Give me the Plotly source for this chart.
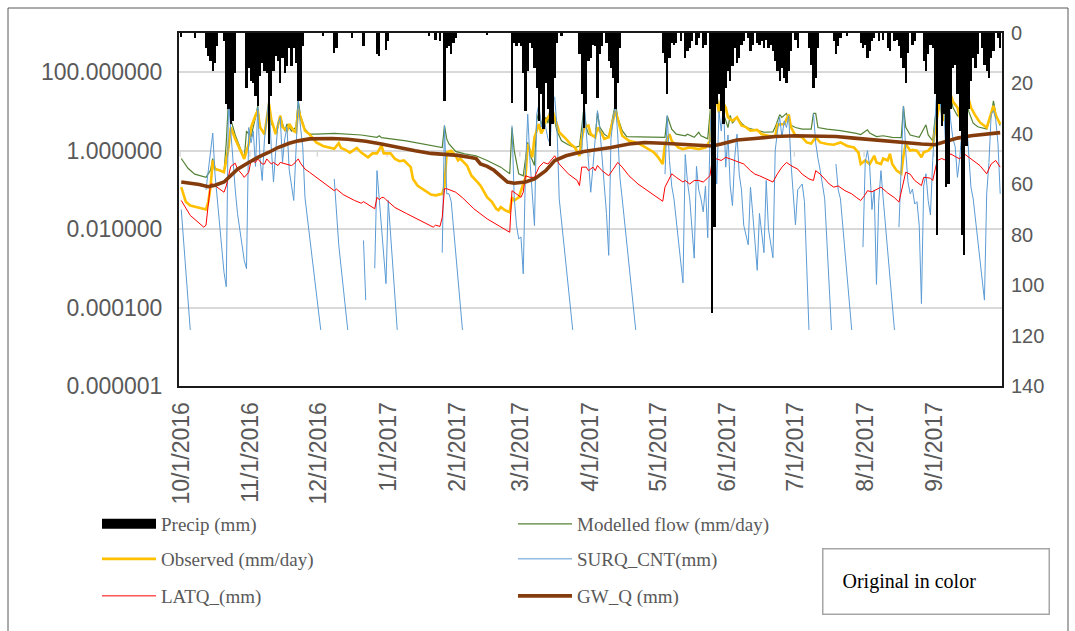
import pandas as pd
import plotly.graph_objects as go

START = pd.Timestamp("2016-10-01")

# ---------------- data (day offset from 10/1/2016) ----------------
precip_day = [0, 6, 11, 12, 13, 14, 15, 16, 19, 20,
              21, 22, 23, 24, 29, 30, 31, 32, 33, 34,
              35, 36, 37, 38, 39, 40, 41, 42, 43, 44,
              45, 46, 47, 48, 49, 50, 51, 52, 53, 54,
              63, 68, 69, 76, 81, 87, 88, 91, 92, 110,
              113, 115, 117, 118, 119, 120, 121, 122, 136, 147,
              148, 149, 150, 151, 152, 153, 154, 155, 156, 157,
              158, 159, 160, 161, 162, 163, 164, 165, 166, 167,
              169, 177, 178, 179, 180, 181, 182, 183, 184, 185,
              186, 187, 189, 190, 191, 192, 193, 194, 195, 214,
              215, 216, 217, 218, 219, 220, 222, 224, 225, 226,
              227, 229, 230, 232, 233, 235, 236, 237, 238, 239,
              240, 241, 242, 243, 244, 245, 246, 247, 248, 249,
              250, 252, 253, 254, 256, 257, 258, 259, 260, 261,
              262, 263, 264, 265, 266, 267, 268, 269, 270, 271,
              273, 274, 279, 280, 281, 282, 283, 290, 291, 292,
              293, 296, 302, 303, 304, 305, 306, 307, 308, 310,
              312, 314, 315, 317, 318, 319, 320, 321, 322, 323,
              325, 326, 330, 331, 332, 333, 334, 335, 336, 337,
              338, 339, 340, 341, 342, 343, 344, 345, 346, 347,
              348, 349, 350, 351, 352, 353, 354, 356, 357, 358,
              359, 360, 361, 363, 364]
precip_mm = [1.5, 2, 6, 9, 11, 15, 12, 5, 3, 28,
             30, 36, 35, 16, 22, 14, 19, 20, 25, 29,
             17, 12, 15, 16, 44, 25, 15, 9, 11, 20,
             10, 16, 13, 6, 13, 6, 12, 27, 27, 5,
             1.3, 8, 6, 2, 5, 8.5, 9, 6.6, 3, 1.3,
             2.6, 3.3, 27, 6, 5, 8.5, 4, 2, 0.7, 27.6,
             4, 5, 4, 5, 16, 31, 15, 4, 6, 14,
             22, 35, 24, 38, 20, 30, 45, 36, 18, 4,
             1.3, 8.5, 24, 37.5, 28, 11, 10, 4.6, 5, 25.6,
             8.5, 5, 4, 11, 14, 18, 30, 20, 6, 8,
             12, 24, 10, 4, 4.6, 4, 3, 10, 7, 6,
             3, 4.6, 2, 6, 4.6, 30, 111, 77, 28, 24,
             31, 36, 22, 15, 19, 13, 6, 12, 10, 4.6,
             3.3, 2, 7, 4.6, 4, 4.6, 3.3, 6, 2.6, 6,
             4.6, 7, 11, 15, 19, 14, 18, 20, 15, 7,
             2.6, 6, 6, 12.5, 22, 17.7, 6, 3.3, 8.5, 5,
             2, 1.3, 4, 6, 4.6, 10, 7, 3.3, 2, 3.3,
             2.6, 5.9, 7.2, 3.3, 2.6, 5, 10, 14, 20, 8,
             4.6, 3.3, 11, 15, 8.5, 4.6, 6, 24, 80, 28,
             37, 32, 61, 60, 30, 14, 12.5, 24, 39, 80,
             88, 45, 30, 19, 10, 14, 8.5, 6, 12.5, 15,
             18, 10, 7, 2, 6]

# (day, log10 of mm/day)
modelled_pts = [(0, -0.2), (3, -0.45), (6, -0.6), (11, -0.68), (13, -0.5), (14, -0.2), (15, -0.45), (19, -0.55),
                (20, 0.2), (21, 1.31), (22, 0.8), (24, 0.4), (26, 0.1), (28, -0.2), (29, 0.5), (31, 0.35),
                (33, 0.85), (34, 1.14), (35, 0.6), (37, 0.42), (38, 0.8), (39, 1.23), (40, 0.7), (42, 0.5),
                (43, 0.6), (44, 0.89), (46, 0.5), (47, 0.68), (49, 0.5), (51, 0.6), (52, 1.27), (53, 0.9),
                (55, 0.55), (57, 0.42), (60, 0.42), (68, 0.44), (80, 0.4), (87, 0.34), (88, 0.38), (89, 0.33),
                (100, 0.25), (104, 0.21), (110, 0.14), (116, 0.08), (117, 0.64), (118, 0.3), (119, 0.17),
                (122, -0.02), (126, -0.08), (131, -0.13), (136, -0.25), (142, -0.42), (146, -0.59), (147, 0.59),
                (148, 0.0), (150, -0.59), (152, -0.64), (153, -0.2), (154, 0.21), (155, -0.1), (157, -0.38),
                (158, 0.76), (159, 1.02), (160, 0.7), (161, 0.68), (162, 0.85), (163, 0.7), (164, 1.14),
                (165, 1.0), (166, 0.76), (167, 0.5), (169, 0.25), (172, 0.15), (175, 0.08), (177, 0.12),
                (178, 0.6), (179, 1.10), (180, 0.6), (181, 0.42), (184, 0.34), (185, 0.97), (186, 0.6),
                (188, 0.42), (190, 0.34), (192, 0.9), (193, 1.2), (194, 0.85), (196, 0.51), (198, 0.36),
                (213, 0.34), (215, 0.34), (216, 0.89), (217, 0.7), (218, 0.55), (220, 0.42), (224, 0.38),
                (225, 0.42), (228, 0.34), (230, 0.47), (231, 0.38), (234, 0.30), (235, 1.0), (236, 1.6),
                (237, 1.86), (238, 1.5), (239, 1.0), (240, 1.19), (241, 0.95), (243, 0.59), (244, 0.9),
                (245, 0.7), (247, 0.85), (249, 0.7), (251, 0.59), (255, 0.52), (259, 0.47), (263, 0.48),
                (264, 0.6), (266, 0.92), (267, 0.85), (269, 0.95), (270, 0.8), (271, 0.65), (273, 0.59),
                (276, 0.55), (280, 0.55), (281, 0.95), (282, 0.95), (283, 0.59), (287, 0.55), (293, 0.51),
                (300, 0.44), (302, 0.41), (305, 0.53), (306, 0.45), (309, 0.36), (312, 0.38), (316, 0.34),
                (320, 0.33), (321, 1.14), (322, 0.6), (324, 0.4), (328, 0.34), (331, 0.66), (332, 0.4),
                (334, 0.25), (335, 0.8), (336, 1.10), (337, 1.69), (338, 1.3), (339, 1.0), (340, 1.3),
                (341, 1.61), (342, 1.4), (343, 1.1), (345, 0.89), (346, 0.95), (347, 1.2), (348, 1.69),
                (349, 1.3), (350, 1.0), (352, 0.7), (354, 0.61), (358, 0.55), (360, 0.9), (361, 1.27),
                (362, 0.95), (364, 0.64)]

observed_pts = [(0, -0.93), (1, -1.1), (2, -1.3), (4, -1.4), (7, -1.44), (9, -1.48), (11, -1.5), (12, -1.31),
                (13, -0.93), (14, -0.25), (15, -0.47), (17, -0.5), (19, -0.55), (21, 0.08), (22, 0.59),
                (24, 0.3), (25, 0.17), (27, -0.05), (28, -0.21), (30, 0.17), (31, 0.59), (33, 0.9), (34, 1.02),
                (35, 0.6), (37, 0.42), (39, 1.2), (40, 0.8), (42, 0.42), (44, 0.89), (45, 0.6), (47, 0.5),
                (48, 0.68), (50, 0.5), (51, 0.47), (52, 1.06), (53, 0.85), (55, 0.51), (57, 0.42), (58, 0.34),
                (60, 0.21), (63, 0.12), (66, 0.07), (68, 0.05), (70, 0.19), (71, 0.07), (73, 0.02), (75, -0.05),
                (78, 0.07), (80, -0.05), (83, -0.17), (85, -0.07), (87, -0.07), (89, 0.13), (90, -0.07),
                (93, -0.07), (95, -0.21), (97, -0.27), (99, -0.25), (102, -0.42), (103, -0.72), (105, -0.89),
                (107, -0.97), (109, -1.05), (111, -1.12), (113, -1.14), (116, -1.1), (117, -0.9), (118, -0.04),
                (120, 0.0), (122, -0.13), (123, -0.25), (124, -0.2), (127, -0.38), (129, -0.64), (131, -0.76),
                (133, -0.89), (136, -1.19), (138, -1.3), (140, -1.48), (141, -1.52), (142, -1.44), (144, -1.52),
                (146, -1.57), (147, -1.19), (148, -1.27), (150, -1.19), (151, -1.02), (153, -0.68), (154, 0.17),
                (156, -0.17), (157, 0.34), (159, 0.68), (160, 0.44), (161, 0.55), (162, 0.76), (164, 0.93),
                (165, 1.02), (166, 0.85), (168, 0.47), (171, 0.30), (173, 0.17), (175, 0.08), (177, -0.13),
                (178, 0.3), (179, 0.59), (181, 0.64), (182, 0.42), (184, 0.34), (185, 0.59), (187, 0.42),
                (188, 0.30), (190, 0.34), (192, 0.85), (193, 1.02), (195, 0.59), (196, 0.38), (199, 0.25),
                (202, 0.21), (205, 0.13), (208, 0.04), (210, -0.04), (212, -0.17), (214, -0.34), (215, 0.17),
                (217, 0.42), (218, 0.25), (221, 0.08), (223, 0.04), (226, 0.08), (230, 0.04), (233, 0.08),
                (235, 0.25), (236, 1.44), (237, 1.61), (239, 0.97), (240, 1.31), (242, 1.1), (243, 0.85),
                (245, 0.76), (247, 0.85), (249, 0.64), (251, 0.6), (253, 0.51), (256, 0.53), (258, 0.42),
                (261, 0.38), (264, 0.36), (265, 0.66), (268, 0.68), (270, 0.92), (271, 0.6), (273, 0.38),
                (276, 0.34), (278, 0.21), (280, 0.18), (282, 0.34), (284, 0.21), (287, 0.17), (290, 0.15),
                (293, 0.21), (296, 0.12), (299, 0.08), (301, -0.05), (302, -0.34), (304, -0.25), (306, -0.34),
                (308, -0.13), (309, -0.3), (311, -0.34), (312, -0.2), (314, -0.25), (315, -0.08), (316, -0.34),
                (318, -0.51), (320, -0.59), (321, -0.13), (322, 0.17), (324, 0.0), (325, 0.02), (327, 0.0),
                (329, -0.17), (330, -0.04), (332, 0.0), (334, 0.13), (335, 0.5), (336, 0.9), (337, 1.23),
                (339, 0.76), (340, 1.19), (341, 1.6), (343, 1.25), (345, 1.1), (346, 0.85), (347, 1.2),
                (348, 1.74), (350, 1.35), (351, 1.1), (353, 0.89), (355, 0.72), (358, 0.59), (360, 0.97),
                (361, 1.14), (362, 0.9), (364, 0.68)]

# None = zero value (gap on the log axis)
surq_pts = [(0, -1.5), (4, -4.57), (5, None),
            (11, -1.0), (12, -0.5), (13, 0.0), (14, 0.45), (15, -0.6), (16, -1.23), (17, -2.0), (19, -3.1),
            (20, -3.47), (21, 1.31), (22, 0.5), (23, -0.3), (24, -1.0), (25, -1.6), (28, -2.8), (29, -3.01),
            (30, 0.59), (31, 0.2), (32, 0.5), (33, -0.4), (34, 1.1), (35, -0.2), (36, -0.76), (37, 0.3),
            (38, 0.9), (39, 1.36), (40, 0.1), (41, -0.8), (42, 0.0), (43, 0.7), (44, 0.85), (45, -0.3),
            (46, 0.3), (47, 0.59), (48, -0.5), (49, -0.9), (50, -1.27), (51, 0.0), (52, 1.31), (53, 0.6),
            (54, 0.1), (55, -1.2), (62, -4.57), (63, None),
            (68, -0.72), (70, -2.4), (74, -4.57), (75, None),
            (81, -2.29), (82, -3.81), (83, None),
            (86, -3.0), (87, -0.51), (88, -1.23), (91, -3.39), (92, -1.27), (96, -4.57), (97, None),
            (116, -2.6), (117, 0.64), (118, -1.1), (119, -1.1), (120, -1.3), (125, -4.57), (126, None),
            (147, 0.64), (148, -1.2), (149, -1.9), (150, -2.25), (151, -2.2), (152, -3.14), (153, -0.5),
            (154, 0.93), (155, -0.25), (156, -1.2), (157, -1.91), (158, 0.93), (159, 1.19), (160, 0.6),
            (161, 0.85), (162, 0.59), (163, 0.3), (164, 0.17), (165, 1.40), (166, 1.36), (167, 0.6),
            (168, -1.23), (174, -4.57), (175, None),
            (178, -0.1), (179, 1.31), (180, 0.5), (181, -0.2), (182, -1.06), (183, -0.4), (184, 0.3),
            (185, 1.02), (186, 0.59), (187, -0.1), (188, -0.68), (189, -1.6), (190, -2.67), (191, 0.3),
            (192, 0.8), (193, 1.23), (194, 0.4), (195, -0.7), (196, -1.23), (202, -4.57), (203, None),
            (215, -0.6), (216, 0.89), (217, -0.25), (218, -0.9), (219, -1.23), (223, -3.37), (224, -0.1),
            (225, -0.8), (226, -1.23), (228, -2.74), (229, -0.4), (230, -1.0), (231, -1.23), (232, -1.56),
            (233, -0.9), (234, -2.22), (235, 0.3), (236, 1.89), (237, 0.67), (238, -0.85), (239, 1.0),
            (240, 0.5), (241, 1.19), (242, -0.42), (243, 0.4), (244, -0.9), (245, -1.4), (246, -0.17),
            (247, 0.42), (248, -0.6), (249, -1.0), (250, -1.9), (252, -2.40), (253, -0.93), (254, -1.6),
            (256, -3.05), (257, -1.6), (259, -2.60), (260, -0.76), (261, -2.0), (263, -2.73), (264, 0.0),
            (265, 0.5), (266, 0.85), (267, 0.34), (268, 0.76), (269, 0.59), (270, 0.89), (271, -0.3),
            (272, -1.2), (273, -1.89), (274, -1.0), (276, -0.85), (277, -1.3), (279, -4.57), (280, None),
            (281, 0.95), (282, 0.2), (283, -0.2), (284, -0.5), (286, -1.23), (289, -4.57), (290, None),
            (291, -0.34), (292, -1.0), (293, -1.23), (298, -4.57), (299, None),
            (303, -2.46), (304, -0.3), (305, 0.0), (306, -0.4), (307, -1.5), (308, -1.0), (309, -3.41),
            (310, -1.3), (311, -0.51), (312, -1.23), (317, -4.57), (318, None),
            (319, -1.95), (320, -0.5), (321, 1.14), (322, 0.0), (323, -0.8), (324, -1.1), (325, -0.98),
            (326, -1.36), (327, -1.3), (328, -1.9), (329, -3.90), (330, -0.9), (331, -0.59), (332, -1.27),
            (333, -1.64), (334, -0.25), (335, 0.8), (336, 1.74), (337, 1.53), (338, 0.76), (339, 1.1),
            (340, -0.25), (341, 1.57), (342, 0.76), (343, 0.3), (344, 0.1), (345, -0.68), (346, -0.2),
            (347, 0.5), (348, 1.78), (349, 0.8), (350, -0.2), (351, -0.93), (352, -1.23), (357, -3.81),
            (358, -1.1), (359, -0.3), (360, 0.93), (361, 1.02), (362, 0.8), (363, 0.2), (364, -1.1)]

latq_pts = [(0, -1.27), (2, -1.45), (4, -1.65), (7, -1.8), (10, -1.95), (11, -1.9), (12, -1.27), (13, -0.85),
            (14, -0.85), (16, -0.93), (19, -1.06), (20, -0.9), (21, -0.68), (22, -0.4), (24, -0.32),
            (25, -0.47), (27, -0.6), (28, -0.68), (30, -0.55), (31, -0.25), (33, -0.3), (34, -0.21),
            (36, -0.34), (37, -0.34), (38, -0.21), (40, -0.34), (41, -0.3), (43, -0.38), (44, -0.3),
            (46, -0.34), (47, -0.34), (49, -0.38), (50, -0.34), (52, -0.21), (53, -0.32), (55, -0.47),
            (57, -0.55), (60, -0.68), (64, -0.85), (68, -1.02), (69, -0.98), (72, -1.12), (77, -1.27),
            (80, -1.34), (81, -1.3), (83, -1.38), (86, -1.48), (87, -1.19), (88, -1.25), (89, -1.2),
            (90, -1.19), (91, -1.25), (95, -1.45), (100, -1.6), (104, -1.72), (108, -1.85), (112, -1.95),
            (113, -1.9), (115, -1.93), (116, -1.7), (117, -0.97), (118, -0.97), (120, -1.02), (122, -1.06),
            (125, -1.2), (130, -1.48), (136, -1.74), (142, -1.95), (146, -2.08), (147, -1.02), (149, -1.1),
            (151, -1.19), (152, -1.06), (153, -0.64), (155, -0.68), (157, -0.68), (159, -0.42), (161, -0.30),
            (163, -0.34), (166, -0.13), (168, -0.34), (172, -0.59), (176, -0.76), (177, -0.89), (178, -0.42),
            (180, -0.42), (181, -0.51), (183, -0.42), (184, -0.51), (185, -0.38), (187, -0.51), (190, -0.64),
            (192, -0.47), (194, -0.30), (196, -0.42), (199, -0.64), (203, -0.85), (208, -1.06), (211, -1.17),
            (214, -1.29), (215, -0.93), (218, -0.59), (220, -0.68), (223, -0.80), (224, -0.76), (226, -0.85),
            (228, -0.76), (230, -0.76), (232, -0.80), (234, -0.68), (235, -0.64), (236, -0.25), (238, -0.21),
            (240, -0.25), (242, -0.17), (244, -0.21), (246, -0.25), (248, -0.28), (250, -0.34), (253, -0.51),
            (255, -0.6), (257, -0.64), (260, -0.72), (263, -0.80), (265, -0.59), (267, -0.42), (269, -0.30),
            (271, -0.38), (274, -0.47), (276, -0.6), (279, -0.72), (281, -0.76), (282, -0.51), (284, -0.6),
            (286, -0.72), (288, -0.85), (290, -0.93), (292, -0.9), (295, -1.02), (298, -1.1), (300, -1.19),
            (302, -1.27), (304, -1.12), (305, -1.02), (307, -1.05), (309, -1.0), (311, -0.93), (314, -1.08),
            (317, -1.2), (319, -1.31), (321, -0.85), (322, -0.55), (324, -0.6), (326, -0.76), (329, -0.89),
            (330, -0.68), (333, -0.7), (334, -0.76), (336, -0.25), (338, -0.2), (340, -0.25), (342, -0.08),
            (344, -0.15), (346, -0.21), (348, -0.08), (350, -0.17), (353, -0.3), (355, -0.38), (358, -0.59),
            (360, -0.34), (362, -0.25), (364, -0.42)]

gwq_pts = [(0, -0.8), (4, -0.83), (8, -0.86), (12, -0.92), (15, -0.88), (19, -0.80), (22, -0.64), (25, -0.47),
           (30, -0.30), (34, -0.17), (39, -0.04), (43, 0.08), (48, 0.19), (52, 0.25), (57, 0.30), (62, 0.31),
           (67, 0.31), (74, 0.29), (82, 0.24), (89, 0.17), (96, 0.08), (104, 0.0), (111, -0.07), (119, -0.10),
           (123, -0.12), (128, -0.17), (131, -0.2), (133, -0.34), (136, -0.40), (139, -0.5), (142, -0.66),
           (145, -0.80), (148, -0.83), (153, -0.80), (157, -0.72), (162, -0.51), (166, -0.25), (171, -0.13),
           (175, -0.07), (179, -0.02), (185, 0.03), (191, 0.08), (199, 0.17), (206, 0.21), (214, 0.19),
           (221, 0.17), (228, 0.14), (236, 0.12), (240, 0.17), (247, 0.27), (255, 0.31), (264, 0.36),
           (273, 0.38), (282, 0.38), (291, 0.36), (299, 0.32), (309, 0.27), (314, 0.24), (322, 0.19),
           (329, 0.17), (335, 0.15), (340, 0.24), (345, 0.32), (351, 0.38), (357, 0.42), (364, 0.46)]

month_ticks = ["2016-10-01", "2016-11-01", "2016-12-01", "2017-01-01", "2017-02-01", "2017-03-01",
               "2017-04-01", "2017-05-01", "2017-06-01", "2017-07-01", "2017-08-01", "2017-09-01"]
month_labels = ["10/1/2016", "11/1/2016", "12/1/2016", "1/1/2017", "2/1/2017", "3/1/2017",
                "4/1/2017", "5/1/2017", "6/1/2017", "7/1/2017", "8/1/2017", "9/1/2017"]
left_tickvals = [1e-6, 1e-4, 1e-2, 1, 100]
left_ticktext = ["0.000001", "0.000100", "0.010000", "1.000000", "100.000000"]
right_tickvals = [0, 20, 40, 60, 80, 100, 120, 140]

assert len(precip_day) == len(precip_mm)


def dates(days):
    return [START + pd.Timedelta(days=d) for d in days]


def split(pts):
    d = [p[0] for p in pts]
    v = [None if p[1] is None else 10 ** p[1] for p in pts]
    return dates(d), v


TICK_FONT = dict(family="Liberation Sans, Arial", size=23, color="#595959")
RTICK_FONT = dict(family="Liberation Sans, Arial", size=20, color="#595959")
LEG_FONT = dict(family="Liberation Serif, Times New Roman", size=19, color="#595959")

fig = go.Figure()

# legend entry for the precipitation columns (wide black key, as in the original)
fig.add_trace(go.Scatter(x=[None], y=[None], mode="lines", name="Precip (mm)",
                         line=dict(color="#000000", width=10), legend="legend",
                         legendgroup="precip"))
fig.add_trace(go.Bar(x=dates(precip_day), y=precip_mm, yaxis="y2", name="Precip (mm)",
                     marker=dict(color="#000000", line=dict(width=0)),
                     width=0.95 * 86400000, showlegend=False, legendgroup="precip"))

series = [
    ("Modelled flow (mm/day)", modelled_pts, "#548235", 1.2, "legend"),
    ("Observed (mm/day)", observed_pts, "#FFC000", 2.6, "legend2"),
    ("SURQ_CNT(mm)", surq_pts, "#5B9BD5", 1.0, "legend2"),
    ("LATQ_(mm)", latq_pts, "#FF0000", 1.0, "legend3"),
    ("GW_Q (mm)", gwq_pts, "#843C0C", 3.6, "legend3"),
]
for name, pts, color, w, leg in series:
    x, y = split(pts)
    fig.add_trace(go.Scatter(x=x, y=y, mode="lines", name=name, connectgaps=False,
                             line=dict(color=color, width=w), legend=leg))

# geometry (pixels)
W, H = 1075, 631
PL, PR, PT, PB = 179, 1002, 33, 386


def px_x(px):
    return (px - PL) / (PR - PL)


def px_y(py):
    return (PB - py) / (PB - PT)


leg_common = dict(orientation="h", xanchor="left", yanchor="middle", font=LEG_FONT,
                  bgcolor="rgba(0,0,0,0)", entrywidth=347, entrywidthmode="pixels",
                  itemwidth=54, traceorder="normal")

fig.update_layout(
    width=W, height=H,
    margin=dict(l=PL, r=W - PR, t=PT, b=H - PB, pad=0),
    paper_bgcolor="white", plot_bgcolor="white",
    bargap=0,
    showlegend=True,
    legend=dict(x=px_x(97), y=px_y(524), **leg_common),
    legend2=dict(x=px_x(97), y=px_y(559), **leg_common),
    legend3=dict(x=px_x(97), y=px_y(596), **leg_common),
    xaxis=dict(type="date",
               range=[START - pd.Timedelta(days=1.0), START + pd.Timedelta(days=364.8)],
               tickmode="array", tickvals=month_ticks, ticktext=month_labels,
               tickangle=-90, tickfont=dict(family="Liberation Sans, Arial", size=23, color="#595959"),
               showgrid=False, zeroline=False, ticks="",
               showline=True, linecolor="#1a1a1a", linewidth=2, mirror=True,
               ticklabelstandoff=5),
    yaxis=dict(type="log", range=[-6, 3], tickmode="array",
               tickvals=left_tickvals, ticktext=left_ticktext, tickfont=TICK_FONT,
               showgrid=True, gridcolor="#D9D9D9", gridwidth=1.5, zeroline=False,
               showline=True, linecolor="#1a1a1a", linewidth=2, mirror=True, ticks="",
               ticklabelstandoff=10),
    yaxis2=dict(overlaying="y", side="right", range=[140, 0], tickmode="array",
                tickvals=right_tickvals, tickfont=RTICK_FONT, showgrid=False, zeroline=False,
                showline=False, ticks="", ticklabelstandoff=8),
)

shapes = []
# small tick marks hanging from the 1.0 line at each month boundary
for t in month_ticks:
    xt = pd.Timestamp(t) - pd.Timedelta(hours=12)
    shapes.append(dict(type="line", xref="x", yref="paper", x0=xt, x1=xt,
                       y0=6 / 9, y1=6 / 9 - 6 / (PB - PT),
                       line=dict(color="#D9D9D9", width=1.5), layer="below"))
# outer chart border
shapes.append(dict(type="rect", xref="paper", yref="paper",
                   x0=px_x(8), x1=px_x(1068), y0=px_y(660), y1=px_y(8),
                   line=dict(color="#595959", width=1), fillcolor="rgba(0,0,0,0)"))
fig.update_layout(shapes=shapes)

fig.add_annotation(xref="paper", yref="paper", x=px_x(935.5), y=px_y(581),
                   xanchor="center", yanchor="middle", showarrow=False,
                   text="Original in color", align="left",
                   width=187, height=26, borderpad=19,
                   bordercolor="#A6A6A6", borderwidth=1.5, bgcolor="white",
                   font=dict(family="Liberation Serif, Times New Roman", size=20, color="#000000"))

fig.write_html("out.html", config={"displayModeBar": False},
               post_script="document.body.style.margin='0';")
